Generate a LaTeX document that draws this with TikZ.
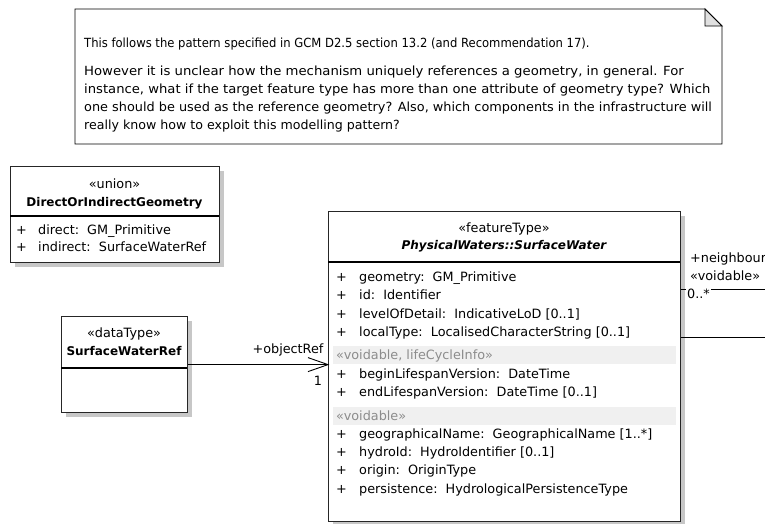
\documentclass[tikz,border=0pt]{standalone}
\usepackage{fontspec}
\setmainfont{DejaVu Sans}
\usetikzlibrary{shadows}
\begin{document}
\begin{tikzpicture}[x=1pt,y=-1pt,
  box/.style={draw=black!85, line width=1.2pt, fill=white, inner sep=0pt, anchor=north west,
    drop shadow={shadow xshift=4pt, shadow yshift=-4pt, fill=black!22, opacity=1}},
  txt/.style={inner sep=0pt, font=\fontsize{12.8}{15}\selectfont},
  attr/.style={txt, anchor=base west},
  ctr/.style={txt, anchor=base},
  bname/.style={ctr, font=\fontsize{12}{14}\selectfont\bfseries},
  band/.style={fill=black!6, draw=none},
  greytxt/.style={attr, text=black!45},
  notetxt/.style={inner sep=0pt, anchor=base west, font=\fontsize{12.6}{15}\selectfont},
  conn/.style={draw=black, line width=0.9pt},
  ]
\useasboundingbox (0,0) rectangle (765,523);

% ---------- note ----------
\draw[line width=0.9pt, fill=white] (75,9) -- (705,9) -- (722,26) -- (722,144) -- (75,144) -- cycle;
\draw[line width=0.9pt, fill=black!12] (705,9) -- (705,26) -- (722,26) -- cycle;
\node[notetxt] (n1) at (84,47) {\scalebox{0.92}[1]{This follows the pattern specified in GCM D2.5 section 13.2 (and Recommendation 17).}};
\node[notetxt] (n2) at (84,75) {\scalebox{1.05}[1]{However it is unclear how the mechanism uniquely references a geometry, in general. For}};
\node[notetxt] (n3) at (84,93) {\scalebox{1.045}[1]{instance, what if the target feature type has more than one attribute of geometry type? Which}};
\node[notetxt] (n4) at (84,111) {\scalebox{1.02}[1]{one should be used as the reference geometry? Also, which components in the infrastructure will}};
\node[notetxt] (n5) at (84,129) {really know how to exploit this modelling pattern?};

% ---------- union ----------
\node[box, minimum width=209, minimum height=96] (u) at (10,166) {};
\draw[line width=1.2pt] (10,216) -- (219,216);
\node[ctr] (ust) at (114.5,188) {«union»};
\node[bname] (un) at (114.5,206) {DirectOrIndirectGeometry};
\node[attr] (up1) at (16,234) {+};
\node[attr] (ua1) at (38,234) {direct:\ \ GM\_Primitive};
\node[attr] (up2) at (16,251) {+};
\node[attr] (ua2) at (38,251) {indirect:\ \ SurfaceWaterRef};

% ---------- SurfaceWaterRef ----------
\node[box, minimum width=126, minimum height=96] (swr) at (61,316) {};
\draw[line width=1.2pt] (61,368) -- (187,368);
\node[ctr] (swrst) at (124,337) {«dataType»};
\node[bname] (swrn) at (124,355) {SurfaceWaterRef};

% ---------- SurfaceWater ----------
\node[box, minimum width=352, minimum height=310] (sw) at (328,211) {};
\draw[line width=1.2pt] (328,262) -- (680,262);
\node[ctr] (swst) at (504,232) {«featureType»};
\node[bname, font=\fontsize{12}{14}\selectfont\bfseries\itshape] (swn) at (504,249) {PhysicalWaters::SurfaceWater};

\fill[band] (333,346) rectangle (676,364);
\fill[band] (333,407) rectangle (676,425);

\node[attr] (p1) at (336,281) {+};
\node[attr] (a1) at (359,281) {geometry:\ \ GM\_Primitive};
\node[attr] (p2) at (336,299) {+};
\node[attr] (a2) at (359,299) {id:\ \ Identifier};
\node[attr] (p3) at (336,318) {+};
\node[attr] (a3) at (359,318) {levelOfDetail:\ \ IndicativeLoD [0..1]};
\node[attr] (p4) at (336,336) {+};
\node[attr] (a4) at (359,336) {localType:\ \ LocalisedCharacterString [0..1]};
\node[greytxt] (g1) at (336,359) {«voidable, lifeCycleInfo»};
\node[attr] (p5) at (336,378) {+};
\node[attr] (a5) at (359,378) {beginLifespanVersion:\ \ DateTime};
\node[attr] (p6) at (336,396) {+};
\node[attr] (a6) at (359,396) {endLifespanVersion:\ \ DateTime [0..1]};
\node[greytxt] (g2) at (336,420) {«voidable»};
\node[attr] (p7) at (336,438) {+};
\node[attr] (a7) at (359,438) {geographicalName:\ \ GeographicalName [1..*]};
\node[attr] (p8) at (336,456) {+};
\node[attr] (a8) at (359,456) {hydroId:\ \ HydroIdentifier [0..1]};
\node[attr] (p9) at (336,474) {+};
\node[attr] (a9) at (359,474) {origin:\ \ OriginType};
\node[attr] (p10) at (336,493) {+};
\node[attr] (a10) at (359,493) {persistence:\ \ HydrologicalPersistenceType};

% ---------- objectRef association ----------
\draw[conn] (swr.east) -- (swr.east -| sw.west) coordinate (tip);
\draw[conn] (tip) ++(-20,-7) -- (tip) -- ++(-20,7);
\node[ctr] (orl) at (288,353) {+objectRef};
\node[ctr] (orm) at (318,385) {1};

% ---------- neighbour association ----------
\coordinate (nb) at (765,289);
\draw[conn] (sw.east |- nb) -- (nb);
\node[attr] (nbl) at (690,262) {+neighbour};
\node[attr] (nbs) at (690,280) {«voidable»};
\node[attr, fill=white, inner sep=1pt] (nbm) at (686,298) {0..*};

\coordinate (r2) at (765,337);
\draw[conn] (sw.east |- r2) -- (r2);
\end{tikzpicture}
\end{document}
